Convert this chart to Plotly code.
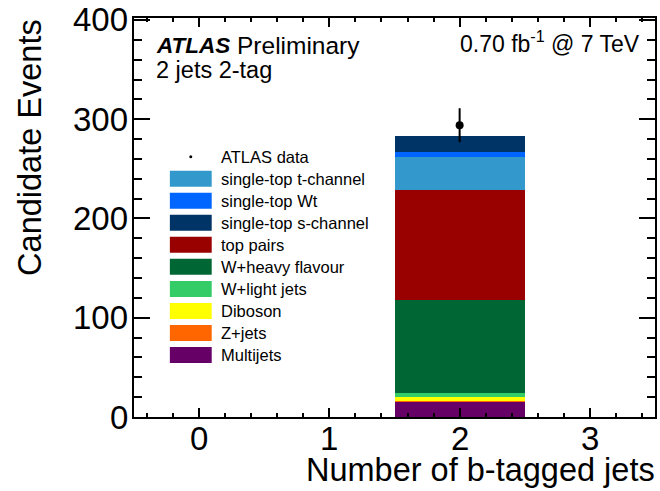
import plotly.graph_objects as go

# Stacked expectation in the 2-tag bin (bottom to top)
processes = ["Multijets", "Z+jets", "Diboson", "W+light jets", "W+heavy flavour",
             "top pairs", "single-top t-channel", "single-top Wt", "single-top s-channel"]
colors = ["#660066", "#ff6600", "#ffff00", "#33cc66", "#006633",
          "#990000", "#3399cc", "#0066ff", "#003366"]
yields = [16.0, 0.4, 3.4, 4.1, 94.0, 110.8, 33.6, 5.0, 15.8]
bin_center = [2]

# Observed data
data_x = [2]
data_y = [294.0]
data_err = [17.1]

# Legend order (top to bottom)
legend_names = ["single-top t-channel", "single-top Wt", "single-top s-channel", "top pairs",
                "W+heavy flavour", "W+light jets", "Diboson", "Z+jets", "Multijets"]

x_ticks = [0, 1, 2, 3]
y_ticks = [0, 100, 200, 300, 400]

W, H = 660, 491
L, R, T, B = 134, 3, 18, 74
PW, PH = W - L - R, H - T - B
FONT = "Liberation Sans, Arial, Helvetica, sans-serif"


def px(xp):
    return (xp - L) / PW


def py(yp):
    return (H - B - yp) / PH


fig = go.Figure()
for name, col, val in zip(processes, colors, yields):
    fig.add_trace(go.Bar(x=bin_center, y=[val], width=1.0, name=name,
                         marker=dict(color=col, line=dict(width=0)),
                         showlegend=False))

fig.add_trace(go.Scatter(x=data_x, y=data_y, mode="markers", showlegend=False,
                         marker=dict(color="black", size=8),
                         error_y=dict(type="data", array=data_err, color="black",
                                      thickness=2, width=0)))

axis_common = dict(showline=True, linewidth=2, linecolor="black", mirror="allticks",
                   ticks="inside", tickwidth=2, tickcolor="black", showgrid=False,
                   zeroline=False, showticklabels=False)

fig.update_xaxes(range=[-0.5, 3.5], tickvals=x_ticks, ticklen=9,
                 minor=dict(dtick=0.2, ticklen=4, tickwidth=2, ticks="inside",
                            tickcolor="black", showgrid=False),
                 **axis_common)
fig.update_yaxes(range=[0, 402], tickvals=y_ticks, ticklen=16,
                 minor=dict(dtick=20, ticklen=8, tickwidth=2, ticks="inside",
                            tickcolor="black", showgrid=False),
                 **axis_common)

ann = []
# Tick labels
for v in y_ticks:
    ann.append(dict(text=str(v), xref="paper", yref="y", x=px(130), y=v,
                    xanchor="right", yanchor="middle", showarrow=False,
                    font=dict(family=FONT, size=33, color="black")))
for v in x_ticks:
    ann.append(dict(text=str(v), xref="x", yref="paper", x=v, y=py(438),
                    xanchor="center", yanchor="middle", showarrow=False,
                    font=dict(family=FONT, size=33, color="black")))

# Axis titles
ann.append(dict(text="Candidate Events", xref="paper", yref="paper", x=px(29), y=py(17),
                xanchor="center", yanchor="top", textangle=-90, showarrow=False,
                font=dict(family=FONT, size=32.5, color="black")))
ann.append(dict(text="Number of b-tagged jets", xref="paper", yref="paper", x=px(658),
                y=py(470), xanchor="right", yanchor="middle", showarrow=False,
                borderpad=0, font=dict(family=FONT, size=32.5, color="black")))
# Labels
ann.append(dict(text="<b><i>ATLAS</i></b>", xref="paper", yref="paper", x=px(154),
                y=py(45), xanchor="left", yanchor="middle", showarrow=False,
                font=dict(family=FONT, size=22.5, color="black")))
ann.append(dict(text="Preliminary", xref="paper", yref="paper", x=px(235),
                y=py(45), xanchor="left", yanchor="middle", showarrow=False,
                font=dict(family=FONT, size=24.5, color="black")))
ann.append(dict(text="2 jets 2-tag", xref="paper", yref="paper", x=px(154),
                y=py(70), xanchor="left", yanchor="middle", showarrow=False,
                font=dict(family=FONT, size=23.5, color="black")))
ann.append(dict(text="0.70 fb<sup>-1</sup> @ 7 TeV", xref="paper", yref="paper", x=px(644),
                y=py(42), xanchor="right", yanchor="middle", showarrow=False,
                font=dict(family=FONT, size=23, color="black")))

# Hand-built legend
shapes = []
row0, drow = 156.7, 22.03
LEG_FONT = 16.5
ann.append(dict(text="ATLAS data", xref="paper", yref="paper", x=px(219), y=py(row0),
                xanchor="left", yanchor="middle", showarrow=False,
                font=dict(family=FONT, size=LEG_FONT, color="black")))
shapes.append(dict(type="circle", xref="paper", yref="paper",
                   x0=px(189.5), x1=px(192.5), y0=py(row0 + 1.5), y1=py(row0 - 1.5),
                   fillcolor="black", line=dict(width=0)))
color_of = dict(zip(processes, colors))
for i, name in enumerate(legend_names):
    yc = row0 + drow * (i + 1)
    shapes.append(dict(type="rect", xref="paper", yref="paper",
                       x0=px(170), x1=px(212), y0=py(yc + 8), y1=py(yc - 8),
                       fillcolor=color_of[name], line=dict(width=0)))
    ann.append(dict(text=name, xref="paper", yref="paper", x=px(219), y=py(yc),
                    xanchor="left", yanchor="middle", showarrow=False,
                    font=dict(family=FONT, size=LEG_FONT, color="black")))

fig.update_layout(width=W, height=H, margin=dict(l=L, r=R, t=T, b=B),
                  barmode="stack", bargap=0, plot_bgcolor="white", paper_bgcolor="white",
                  annotations=ann, shapes=shapes, showlegend=False,
                  font=dict(family=FONT, color="black"))

fig.write_html("out.html")
